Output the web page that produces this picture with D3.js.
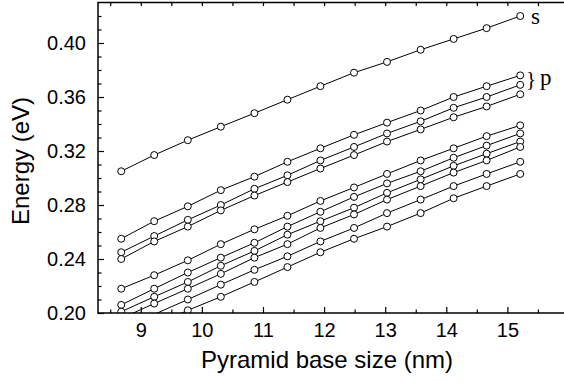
<!DOCTYPE html>
<html>
<head>
<meta charset="utf-8">
<script src="https://cdn.jsdelivr.net/npm/d3@7"></script>
<style>
    body { margin: 0; background: #fff; }
    svg { display: block; }
</style>
</head>
<body>
<script>
    //Global variables
        const width = 564;
        const height = 382;
        const plotLeft = 98, plotRight = 568.5, plotTop = 2.5, plotBottom = 313;

    //Data
        const baseSize = [8.68, 9.22, 9.77, 10.31, 10.86, 11.40, 11.94, 12.49, 13.03, 13.58, 14.12, 14.66, 15.21];

        const levelS  = [0.305, 0.317, 0.328, 0.338, 0.348, 0.358, 0.368, 0.378, 0.386, 0.395, 0.403, 0.411, 0.420];

        const levelP1 = [0.255, 0.268, 0.279, 0.291, 0.301, 0.312, 0.322, 0.332, 0.341, 0.350, 0.360, 0.368, 0.376];
        const levelP2 = [0.245, 0.257, 0.269, 0.280, 0.292, 0.302, 0.313, 0.323, 0.333, 0.342, 0.352, 0.360, 0.369];
        const levelP3 = [0.240, 0.253, 0.264, 0.276, 0.287, 0.297, 0.307, 0.317, 0.327, 0.336, 0.345, 0.353, 0.362];

        const level1 = [0.218, 0.228, 0.239, 0.251, 0.262, 0.272, 0.283, 0.293, 0.303, 0.313, 0.322, 0.331, 0.339];
        const level2 = [0.206, 0.218, 0.230, 0.241, 0.252, 0.264, 0.275, 0.286, 0.296, 0.305, 0.315, 0.324, 0.333];
        const level3 = [0.201, 0.212, 0.223, 0.235, 0.246, 0.258, 0.268, 0.278, 0.289, 0.299, 0.309, 0.318, 0.327];
        const level4 = [0.196, 0.207, 0.218, 0.229, 0.241, 0.251, 0.263, 0.273, 0.284, 0.294, 0.304, 0.313, 0.323];
        const level5 = [0.188, 0.199, 0.210, 0.221, 0.232, 0.242, 0.253, 0.263, 0.274, 0.284, 0.294, 0.303, 0.312];
        const level6 = [0.180, 0.191, 0.202, 0.212, 0.223, 0.234, 0.245, 0.255, 0.264, 0.274, 0.285, 0.294, 0.303];

        const allLevels = [levelS, levelP1, levelP2, levelP3, level1, level2, level3, level4, level5, level6];

        const xTicks = [9, 10, 11, 12, 13, 14, 15];
        const yTicks = [0.20, 0.24, 0.28, 0.32, 0.36, 0.40];

    //Scales
        const xScale = d3.scaleLinear()
                        .domain([8.3, 16])
                        .range([plotLeft, plotRight]);

        const yScale = d3.scaleLinear()
                        .domain([0.20, 0.43])
                        .range([plotBottom, plotTop]);

    //SVG element
        const svg = d3.select("body")
                    .append("svg")
                    .attr("width", width)
                    .attr("height", height);

        svg.append("clipPath")
            .attr("id", "plotArea")
            .append("rect")
            .attr("x", plotLeft)
            .attr("y", plotTop)
            .attr("width", plotRight - plotLeft)
            .attr("height", plotBottom - plotTop);

    //Lines and circles
        const line = d3.line()
                       .x((d, i) => xScale(baseSize[i]))
                       .y(d => yScale(d));

        const plot = svg.append("g").attr("clip-path", "url(#plotArea)");

        plot.selectAll("path.level")
            .data(allLevels)
            .enter()
            .append("path")
            .attr("class", "level")
            .attr("d", line)
            .attr("fill", "none")
            .attr("stroke", "#000")
            .attr("stroke-width", 1);

        //Circles only where the point lies inside the frame
        plot.selectAll("g.pts")
            .data(allLevels)
            .enter()
            .append("g")
            .selectAll("circle")
            .data(d => d.map((v, i) => [baseSize[i], v]).filter(p => p[1] >= 0.1995))
            .enter()
            .append("circle")
            .attr("cx", d => xScale(d[0]))
            .attr("cy", d => yScale(d[1]))
            .attr("r", 3.5)
            .attr("fill", "#fff")
            .attr("stroke", "#000")
            .attr("stroke-width", 1);

    //Axes
        const axisFont = "Liberation Sans, Arial, sans-serif";

        const bottomAxis = d3.axisBottom(xScale)
                             .tickValues(xTicks)
                             .tickSize(-6)
                             .tickPadding(10)
                             .tickFormat(d3.format("d"));

        const bottomMinor = d3.axisBottom(xScale)
                              .tickValues(d3.range(8.5, 16, 1))
                              .tickSize(-3.5)
                              .tickFormat("");

        const leftAxis = d3.axisLeft(yScale)
                           .tickValues(yTicks)
                           .tickSize(-6)
                           .tickPadding(12)
                           .tickFormat(d3.format(".2f"));

        const leftMinor = d3.axisLeft(yScale)
                            .tickValues(d3.range(0.21, 0.43, 0.01).filter(v => Math.round(v * 100) % 4 !== 0))
                            .tickSize(-3.5)
                            .tickFormat("");

        const topTicks = d3.axisTop(xScale)
                           .tickValues(d3.range(8.5, 16, 0.5))
                           .tickSize(-3.5)
                           .tickFormat("");

        //Move and display axes
        svg.append("g")
            .attr("transform", "translate(0," + plotBottom + ")")
            .call(bottomAxis);
        svg.append("g")
            .attr("transform", "translate(0," + plotBottom + ")")
            .call(bottomMinor);
        svg.append("g")
            .attr("transform", "translate(" + plotLeft + ",0)")
            .call(leftAxis);
        svg.append("g")
            .attr("transform", "translate(" + plotLeft + ",0)")
            .call(leftMinor);
        svg.append("g")
            .attr("transform", "translate(0," + plotTop + ")")
            .call(topTicks);

        svg.selectAll(".domain").remove();
        svg.selectAll(".tick line").attr("stroke", "#000").attr("stroke-width", 1.2);
        svg.selectAll(".tick text")
            .attr("fill", "#000")
            .attr("font-family", axisFont)
            .attr("font-size", 20);

        //Frame
        svg.append("rect")
            .attr("x", plotLeft)
            .attr("y", plotTop)
            .attr("width", plotRight - plotLeft)
            .attr("height", plotBottom - plotTop)
            .attr("fill", "none")
            .attr("stroke", "#000")
            .attr("stroke-width", 1.5);

    //Axis titles
        svg.append("text")
            .attr("x", 327)
            .attr("y", 368)
            .attr("text-anchor", "middle")
            .attr("font-family", axisFont)
            .attr("font-size", 24)
            .text("Pyramid base size (nm)");

        svg.append("text")
            .attr("transform", "translate(29,161) rotate(-90)")
            .attr("text-anchor", "middle")
            .attr("font-family", axisFont)
            .attr("font-size", 24)
            .text("Energy (eV)");

    //Level labels
        const serif = "Liberation Serif, Times New Roman, serif";

        svg.append("text")
            .attr("x", 531)
            .attr("y", 24)
            .attr("font-family", serif)
            .attr("font-size", 23)
            .text("s");

        svg.append("text")
            .attr("x", 526)
            .attr("y", 86)
            .attr("font-family", serif)
            .attr("font-size", 21)
            .text("}");

        svg.append("text")
            .attr("x", 540)
            .attr("y", 85)
            .attr("font-family", serif)
            .attr("font-size", 23)
            .text("p");
</script>
</body>
</html>
